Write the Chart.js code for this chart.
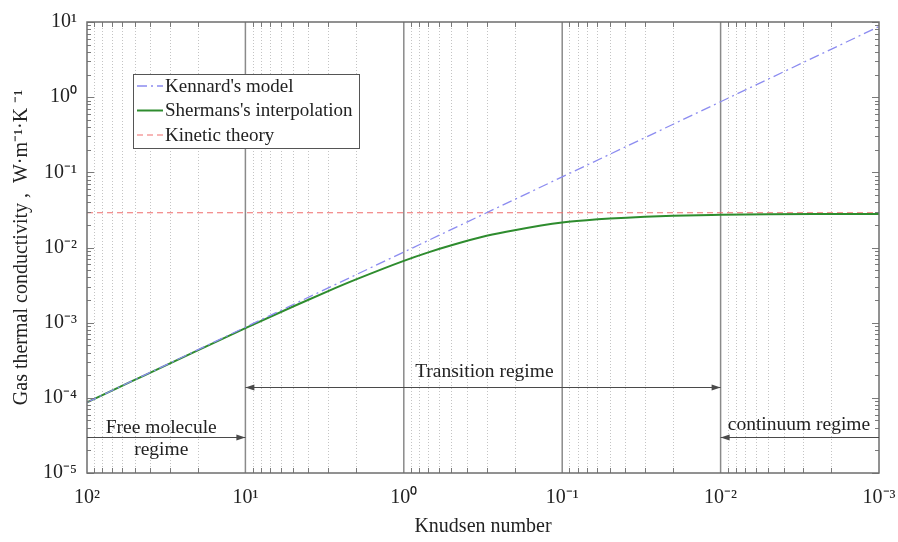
<!DOCTYPE html>
<html>
<head>
    <title>Gas thermal conductivity vs Knudsen number</title>
    <script src="https://cdn.jsdelivr.net/npm/chart.js@4.4.1/dist/chart.umd.min.js"></script>
    <style>
        html, body { margin: 0; padding: 0; background: #fff; }
        #wrap { width: 898px; height: 542px; }
    </style>
</head>
<body>
    <div id="wrap"><canvas id="myChart" width="898" height="542"></canvas></div>

    <script>
        // values
        var knKennard = [100, 10, 1, 0.1, 0.01, 0.001];
        var kennard = [8.7e-5, 8.7e-4, 8.7e-3, 8.7e-2, 0.87, 8.7];

        var knSherman = [100, 50, 20, 10, 5, 3, 2, 1, 0.7, 0.5, 0.3, 0.2, 0.1, 0.07, 0.05, 0.03, 0.02, 0.01, 0.005, 0.002, 0.001];
        var sherman = [8.7e-5, 1.73e-4, 4.28e-4, 8.44e-4, 1.64e-3, 2.63e-3, 3.76e-3, 6.64e-3, 8.61e-3, 1.07e-2, 1.43e-2, 1.70e-2, 2.15e-2, 2.31e-2, 2.43e-2, 2.57e-2, 2.65e-2, 2.72e-2, 2.77e-2, 2.79e-2, 2.80e-2];

        var knKinetic = [100, 0.001];
        var kinetic = [0.029, 0.029];

        var xDecades = [100, 10, 1, 0.1, 0.01, 0.001];
        var yDecades = [1e-5, 1e-4, 1e-3, 1e-2, 1e-1, 1, 10];

        // regime annotations: text, x (Kn), y (conductivity)
        var regimeText = ['Free molecule', 'regime', 'Transition regime', 'continuum regime'];
        var regimeTextX = [34, 34, 0.31, 0.0032];
        var regimeTextY = [4.0e-5, 2.0e-5, 2.2e-4, 4.4e-5];
        // arrows: from Kn, to Kn, at conductivity, heads
        var arrowFrom = [100, 10, 0.001];
        var arrowTo = [10, 0.01, 0.01];
        var arrowY = [3.0e-5, 1.4e-4, 3.0e-5];
        var arrowHeads = ['end', 'both', 'end'];

        var serif = '"Liberation Serif", "Times New Roman", serif';

        function pts(xs, ys) {
            return xs.map(function (x, i) { return { x: x, y: ys[i] }; });
        }

        var sup = { '-': '\u207B', '0': '\u2070', '1': '\u00B9', '2': '\u00B2', '3': '\u00B3', '4': '\u2074', '5': '\u2075' };
        function powLabel(v) {
            var e = Math.round(Math.log10(v)).toString();
            return '10' + e.split('').map(function (c) { return sup[c]; }).join('');
        }

        function minorValues(min, max) {
            var out = [];
            for (var p = Math.floor(Math.log10(min)); p <= Math.ceil(Math.log10(max)); p++) {
                for (var m = 2; m <= 9; m++) {
                    var v = m * Math.pow(10, p);
                    if (v > min && v < max) out.push(v);
                }
            }
            return out;
        }

        var framePlugin = {
            id: 'frame',
            beforeDatasetsDraw: function (chart) {
                var c = chart.ctx, a = chart.chartArea, xs = chart.scales.x;
                c.save();
                // minor dotted verticals
                c.strokeStyle = '#c4c4c4';
                c.lineWidth = 1;
                c.setLineDash([1, 2]);
                minorValues(0.001, 100).forEach(function (v) {
                    var px = Math.round(xs.getPixelForValue(v)) + 0.5;
                    c.beginPath(); c.moveTo(px, a.top); c.lineTo(px, a.bottom); c.stroke();
                });
                // major solid verticals
                c.setLineDash([]);
                c.strokeStyle = '#8a8a8a';
                c.lineWidth = 1.5;
                xDecades.slice(1, -1).forEach(function (v) {
                    var px = xs.getPixelForValue(v);
                    c.beginPath(); c.moveTo(px, a.top); c.lineTo(px, a.bottom); c.stroke();
                });
                c.restore();
            },
            afterDatasetsDraw: function (chart) {
                var c = chart.ctx, a = chart.chartArea, xs = chart.scales.x, ys = chart.scales.y;
                c.save();
                c.strokeStyle = '#7a7a7a';
                c.lineWidth = 1;
                // tick marks
                minorValues(0.001, 100).forEach(function (v) {
                    var px = Math.round(xs.getPixelForValue(v)) + 0.5;
                    c.beginPath();
                    c.moveTo(px, a.bottom); c.lineTo(px, a.bottom - 5);
                    c.moveTo(px, a.top); c.lineTo(px, a.top + 5);
                    c.stroke();
                });
                minorValues(1e-5, 10).forEach(function (v) {
                    var py = Math.round(ys.getPixelForValue(v)) + 0.5;
                    c.beginPath();
                    c.moveTo(a.left, py); c.lineTo(a.left + 4, py);
                    c.moveTo(a.right, py); c.lineTo(a.right - 4, py);
                    c.stroke();
                });
                yDecades.forEach(function (v) {
                    var py = Math.round(ys.getPixelForValue(v)) + 0.5;
                    c.beginPath();
                    c.moveTo(a.left, py); c.lineTo(a.left + 7, py);
                    c.moveTo(a.right, py); c.lineTo(a.right - 7, py);
                    c.stroke();
                });
                // frame
                c.lineWidth = 1.5;
                c.strokeStyle = '#6e6e6e';
                c.strokeRect(a.left, a.top, a.right - a.left, a.bottom - a.top);

                // arrows
                c.strokeStyle = '#4a4a4a';
                c.fillStyle = '#4a4a4a';
                c.lineWidth = 1;
                function head(x, y, dir) {
                    c.beginPath();
                    c.moveTo(x, y);
                    c.lineTo(x - dir * 9, y - 3);
                    c.lineTo(x - dir * 9, y + 3);
                    c.closePath();
                    c.fill();
                }
                arrowFrom.forEach(function (f, i) {
                    var x1 = xs.getPixelForValue(f), x2 = xs.getPixelForValue(arrowTo[i]);
                    var y = Math.round(ys.getPixelForValue(arrowY[i])) + 0.5;
                    c.beginPath(); c.moveTo(x1, y); c.lineTo(x2, y); c.stroke();
                    var dir = x2 > x1 ? 1 : -1;
                    head(x2, y, dir);
                    if (arrowHeads[i] === 'both') head(x1, y, -dir);
                });
                // regime labels
                c.fillStyle = '#222';
                c.font = '19.5px ' + serif;
                c.textAlign = 'center';
                c.textBaseline = 'middle';
                regimeText.forEach(function (t, i) {
                    c.fillText(t, xs.getPixelForValue(regimeTextX[i]), ys.getPixelForValue(regimeTextY[i]));
                });

                // legend
                var bx = 133, by = 74, bw = 226, bh = 74;
                c.fillStyle = '#fff';
                c.fillRect(bx, by, bw, bh);
                c.strokeStyle = '#555';
                c.lineWidth = 1;
                c.strokeRect(bx + 0.5, by + 0.5, bw, bh);
                c.textAlign = 'left';
                c.font = '19px ' + serif;
                chart.data.datasets.forEach(function (ds, i) {
                    var ly = by + 12 + i * 24.5;
                    c.strokeStyle = ds.borderColor;
                    c.lineWidth = ds.borderWidth;
                    c.setLineDash(ds.borderDash || []);
                    c.beginPath(); c.moveTo(bx + 4, ly); c.lineTo(bx + 30, ly); c.stroke();
                    c.setLineDash([]);
                    c.fillStyle = '#222';
                    c.fillText(ds.label, bx + 32, ly + 1);
                });
                c.restore();
            }
        };

        var ctx = document.getElementById('myChart').getContext('2d');
        var chart = new Chart(ctx, {
            type: 'line',
            data: {
                datasets: [{
                    label: "Kennard's model",
                    data: pts(knKennard, kennard),
                    borderColor: 'rgb(140,140,240)',
                    borderWidth: 1.3,
                    borderDash: [10, 4, 2, 4],
                    pointRadius: 0,
                    fill: false
                }, {
                    label: "Shermans's interpolation",
                    data: pts(knSherman, sherman),
                    borderColor: 'rgb(46,140,46)',
                    borderWidth: 2,
                    cubicInterpolationMode: 'monotone',
                    pointRadius: 0,
                    fill: false
                }, {
                    label: 'Kinetic theory',
                    data: pts(knKinetic, kinetic),
                    borderColor: 'rgb(240,110,110)',
                    borderWidth: 1.2,
                    borderDash: [6, 4],
                    pointRadius: 0,
                    fill: false
                }]
            },
            options: {
                responsive: false,
                animation: false,
                layout: { padding: { left: 0, top: 22, right: 19, bottom: 0 } },
                plugins: {
                    legend: { display: false },
                    tooltip: { enabled: false }
                },
                scales: {
                    x: {
                        type: 'logarithmic',
                        reverse: true,
                        min: 0.001,
                        max: 100,
                        grid: { display: false, drawTicks: false },
                        border: { display: false },
                        afterBuildTicks: function (s) { s.ticks = xDecades.map(function (v) { return { value: v }; }); },
                        afterFit: function (s) { s.height = 69; s.paddingLeft = 0; s.paddingRight = 0; },
                        ticks: {
                            autoSkip: false,
                            maxRotation: 0,
                            padding: 13,
                            color: '#222',
                            font: { family: serif, size: 20 },
                            callback: function (v) { return powLabel(v); }
                        },
                        title: {
                            display: true,
                            text: 'Knudsen number',
                            color: '#222',
                            font: { family: serif, size: 20 },
                            padding: { top: 0, bottom: 3 }
                        }
                    },
                    y: {
                        type: 'logarithmic',
                        min: 1e-5,
                        max: 10,
                        grid: { display: false, drawTicks: false },
                        border: { display: false },
                        afterBuildTicks: function (s) { s.ticks = yDecades.map(function (v) { return { value: v }; }); },
                        afterFit: function (s) { s.width = 87; s.paddingTop = 0; s.paddingBottom = 0; },
                        ticks: {
                            autoSkip: false,
                            padding: 10,
                            color: '#222',
                            font: { family: serif, size: 20 },
                            callback: function (v) { return powLabel(v); }
                        },
                        title: {
                            display: true,
                            text: 'Gas thermal conductivity ,  W\u00B7m\u207B\u00B9\u00B7K \u207B\u00B9',
                            color: '#222',
                            font: { family: serif, size: 20 },
                            padding: { top: 10, bottom: 0 }
                        }
                    }
                }
            },
            plugins: [framePlugin]
        });
    </script>
</body>
</html>
